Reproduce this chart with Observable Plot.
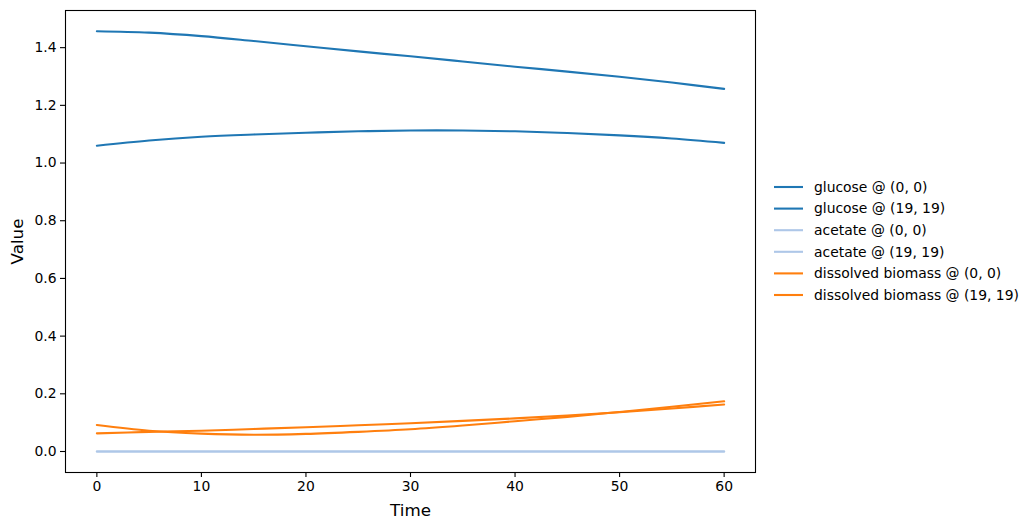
<!DOCTYPE html>
<html>
<head>
<meta charset="utf-8">
<script src="https://cdn.jsdelivr.net/npm/d3@7"></script>
<script src="https://cdn.jsdelivr.net/npm/@observablehq/plot@0.6"></script>
<style>
  body { margin: 0; background: #fff; }
  #wrap { position: relative; width: 1033px; height: 529px; font-family: "DejaVu Sans", sans-serif; }
  #legend { position: absolute; left: 770px; top: 176px; }
</style>
</head>
<body>
<div id="wrap"></div>
<script>
const times = [0, 5, 10, 15, 20, 25, 30, 35, 40, 45, 50, 55, 60];
const seriesNames = [
  "glucose @ (0, 0)", "glucose @ (19, 19)",
  "acetate @ (0, 0)", "acetate @ (19, 19)",
  "dissolved biomass @ (0, 0)", "dissolved biomass @ (19, 19)"
];
const seriesColors = ["#1f77b4", "#1f77b4", "#aec7e8", "#aec7e8", "#ff7f0e", "#ff7f0e"];
const glucose00   = [1.457, 1.452, 1.440, 1.423, 1.405, 1.387, 1.370, 1.352, 1.334, 1.317, 1.299, 1.279, 1.257];
const glucose1919 = [1.060, 1.078, 1.091, 1.099, 1.105, 1.110, 1.113, 1.113, 1.110, 1.104, 1.096, 1.085, 1.070];
const acetate00   = [0, 0, 0, 0, 0, 0, 0, 0, 0, 0, 0, 0, 0];
const acetate1919 = [0, 0, 0, 0, 0, 0, 0, 0, 0, 0, 0, 0, 0];
const biomass00   = [0.092, 0.072, 0.062, 0.058, 0.061, 0.068, 0.077, 0.090, 0.105, 0.120, 0.137, 0.155, 0.174];
const biomass1919 = [0.063, 0.068, 0.072, 0.078, 0.084, 0.091, 0.098, 0.106, 0.115, 0.125, 0.136, 0.149, 0.163];
const xTicks = [0, 10, 20, 30, 40, 50, 60];
const yTicks = [0, 0.2, 0.4, 0.6, 0.8, 1.0, 1.2, 1.4];

const allSeries = [glucose00, glucose1919, acetate00, acetate1919, biomass00, biomass1919];
const rows = [];
allSeries.forEach((vals, i) => vals.forEach((v, j) => rows.push({series: seriesNames[i], t: times[j], v})));

const fontSize = "13.9px";
const chart = Plot.plot({
  width: 1033, height: 529,
  marginLeft: 65, marginRight: 278, marginTop: 10, marginBottom: 57,
  style: {fontFamily: "DejaVu Sans, sans-serif", fontSize, color: "#000", background: "#fff"},
  x: {domain: [-3, 63]},
  y: {domain: [-0.0728, 1.5288]},
  color: {domain: seriesNames, range: seriesColors},
  marks: [
    Plot.line(rows, {x: "t", y: "v", z: "series", stroke: "series", strokeWidth: 2.1, curve: "catmull-rom"}),
    Plot.frame({stroke: "#000", strokeWidth: 1.1}),
    Plot.axisX({ticks: xTicks, tickSize: 5, tickPadding: 4, tickFormat: d3.format("d"), fontSize,
      label: "Time", labelAnchor: "center", labelArrow: "none", labelOffset: 43, stroke: "#000", strokeWidth: 1.1}),
    Plot.axisY({ticks: yTicks, tickSize: 5, tickPadding: 4, tickFormat: d3.format(".1f"), fontSize,
      label: "Value", labelAnchor: "center", labelArrow: "none", labelOffset: 54, stroke: "#000", strokeWidth: 1.1})
  ]
});
const wrap = document.getElementById("wrap");
wrap.appendChild(chart);
// enlarge axis titles
d3.select(chart).selectAll("g[aria-label='x-axis label'] text, g[aria-label='y-axis label'] text").style("font-size", "16.7px");

// legend
const leg = d3.select(wrap).append("svg").attr("id", "legend").attr("width", 260).attr("height", 135);
seriesNames.forEach((name, i) => {
  const y = 11 + i * 21.6;
  leg.append("line").attr("x1", 4).attr("x2", 33).attr("y1", y).attr("y2", y)
    .attr("stroke", seriesColors[i]).attr("stroke-width", 2.1);
  leg.append("text").attr("x", 44).attr("y", y).attr("dy", "0.35em")
    .style("font-family", "DejaVu Sans, sans-serif").style("font-size", "13.9px").text(name);
});
</script>
</body>
</html>
